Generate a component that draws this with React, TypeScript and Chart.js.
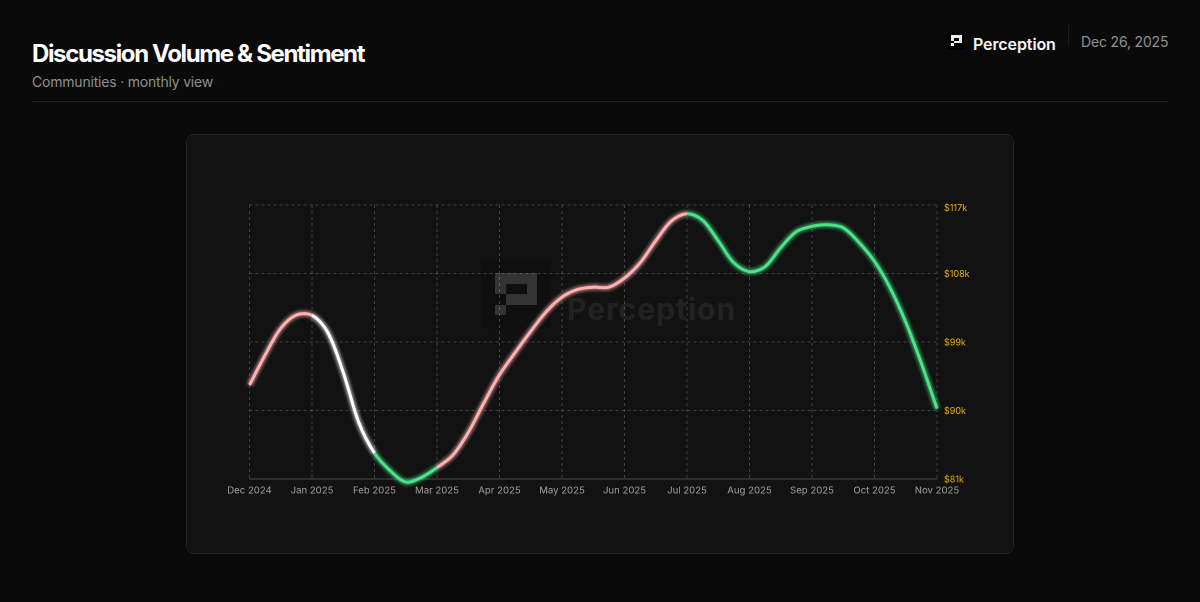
import React, { useEffect, useRef } from "react";
import { Chart, registerables } from "chart.js";

Chart.register(...registerables);

const months = ["Dec 2024","Jan 2025","Feb 2025","Mar 2025","Apr 2025","May 2025","Jun 2025","Jul 2025","Aug 2025","Sep 2025","Oct 2025","Nov 2025"];
const yTicks = [81, 90, 99, 108, 117];
const monthPos = [0,0.25,0.5,0.75,1,1.25,1.5,1.75,2,2.25,2.5,2.75,3,3.25,3.5,3.75,4,4.25,4.5,4.75,5,5.25,5.5,5.75,6,6.25,6.5,6.75,7,7.25,7.5,7.75,8,8.25,8.5,8.75,9,9.25,9.5,9.75,10,10.25,10.5,10.75,11];
const priceK = [93.35,97.3,100.8,102.55,102.5,100.3,95,88.4,84.4,82.1,80.6,81.2,82.5,84.1,87.1,91,94.7,97.6,100.4,103,104.9,105.9,106.2,106.2,107.4,109.4,112.3,114.9,115.85,115,112.3,109.4,108.25,108.9,111.4,113.5,114.2,114.4,114,112.1,109.6,106.1,101.6,96.2,90.25];

const PINK = "#ffb0b0";
const WHITE = "#ffffff";
const GREEN = "#4ae388";
const sentimentByMonth = [PINK, WHITE, GREEN, PINK, PINK, PINK, PINK, GREEN, GREEN, GREEN, GREEN];

const points = monthPos.map((x, i) => ({ x, y: priceK[i] }));
const segColor = (ctx: any) => sentimentByMonth[Math.min(10, Math.floor(ctx.p0.parsed.x + 1e-6))];

function App() {
  const ref = useRef<HTMLCanvasElement | null>(null);
  useEffect(() => {
    if (!ref.current) return;
    const chart = new Chart(ref.current, {
      type: "line",
      data: {
        datasets: [
          {
            data: points,
            borderWidth: 6,
            borderColor: GREEN,
            segment: { borderColor: segColor },
            pointRadius: 0,
            tension: 0.33,
            capBezierPoints: false,
            clip: false,
            order: 2,
          } as any,
          {
            data: points,
            borderWidth: 3,
            borderColor: GREEN,
            segment: { borderColor: segColor },
            pointRadius: 0,
            tension: 0.33,
            capBezierPoints: false,
            clip: false,
            order: 1,
          } as any,
        ],
      },
      options: {
        animation: false,
        responsive: false,
        devicePixelRatio: 2,
        layout: { padding: { left: 249.5, top: 205, right: 0, bottom: 0 } },
        plugins: { legend: { display: false }, tooltip: { enabled: false } },
        scales: {
          x: {
            type: "linear",
            min: 0,
            max: 11,
            afterBuildTicks: (s: any) => { s.ticks = months.map((_, i) => ({ value: i })); },
            afterFit: (s: any) => { s.height = 123; },
            grid: { color: "rgba(255,255,255,0.2)", lineWidth: 1, drawTicks: false },
            border: { display: true, color: "#4a4a4a", dash: [3, 3] },
            ticks: {
              autoSkip: false,
              maxRotation: 0,
              padding: 6,
              color: "#a0a0a0",
              font: { family: "Inter", size: 9.6 },
              callback: (v: any) => months[v as number],
            },
          },
          y: {
            position: "right",
            min: 81,
            max: 117,
            afterBuildTicks: (s: any) => { s.ticks = yTicks.map((value) => ({ value })); },
            afterFit: (s: any) => { s.width = 263; },
            grid: { color: "rgba(255,255,255,0.2)", lineWidth: 1, drawTicks: false },
            border: { display: false, dash: [3, 3] },
            ticks: {
              padding: 7,
              color: "#eab308",
              font: { family: "Inter", size: 9 },
              callback: (v: any) => `$${v}k`,
            },
          },
        },
      },
      plugins: [
        {
          id: "glow",
          beforeDatasetDraw(c: any, args: any) {
            if (args.index === 0) {
              c.ctx.save();
              c.ctx.filter = "blur(3px)";
              c.ctx.globalAlpha = 0.6;
            }
          },
          afterDatasetDraw(c: any, args: any) {
            if (args.index === 0) c.ctx.restore();
          },
        },
        {
          id: "labelNudge",
          beforeDraw(c: any) {
            for (const it of c.scales.y.getLabelItems()) {
              if (!it.__moved) {
                it.options.translation[1] += it.label === "$117k" ? 3.5 : 1;
                it.__moved = true;
              }
            }
          },
        },
      ],
    } as any);
    return () => chart.destroy();
  }, []);

  const block = (l: number, t: number, w: number, h: number, c: string) => (
    <div style={{ position: "absolute", left: l, top: t, width: w, height: h, background: c }} />
  );
  const logo = (l: number, t: number, u: number, c: string) => (
    <>
      {block(l, t, u * 4, u, c)}
      {block(l, t + u, u, u, c)}
      {block(l + u * 3, t + u, u, u, c)}
      {block(l + u, t + u * 2, u * 3, u, c)}
      {block(l, t + u * 3, u, u, c)}
    </>
  );

  return (
    <div style={{ position: "absolute", left: 0, top: 0, width: 1200, height: 602, background: "#0a0a0a", overflow: "hidden", fontFamily: "Inter, sans-serif" }}>
      <div style={{ position: "absolute", left: 32, top: 39, fontSize: 24, lineHeight: "29px", fontWeight: 700, letterSpacing: -1.36, color: "#fff", whiteSpace: "nowrap" }}>Discussion Volume &amp; Sentiment</div>
      <div style={{ position: "absolute", left: 32, top: 73, fontSize: 14, lineHeight: "18px", letterSpacing: -0.2, color: "#8f8f8f", whiteSpace: "nowrap" }}>Communities · monthly view</div>
      <div style={{ position: "absolute", left: 32, top: 101, width: 1136, height: 1, background: "#222" }} />

      {block(947, 32, 18, 18, "#000")}
      {logo(951, 35, 2.75, "#eee")}
      <div style={{ position: "absolute", left: 973, top: 34, fontSize: 16, lineHeight: "20px", fontWeight: 600, letterSpacing: -0.1, color: "#f5f5f5", whiteSpace: "nowrap" }}>Perception</div>
      <div style={{ position: "absolute", left: 1068, top: 25, width: 1, height: 21, background: "#1c1c1c" }} />
      <div style={{ position: "absolute", left: 1081, top: 33, fontSize: 14, lineHeight: "18px", letterSpacing: -0.17, color: "#8f8f8f", whiteSpace: "nowrap" }}>Dec 26, 2025</div>

      <div style={{ position: "absolute", left: 186, top: 134, width: 828, height: 420, boxSizing: "border-box", background: "#121212", border: "1px solid #242424", borderRadius: 8 }} />

      {block(481, 259, 70, 70, "#0f0f0f")}
      {logo(495, 273, 10.5, "#333333")}
      <div style={{ position: "absolute", left: 567, top: 290, fontSize: 30, lineHeight: "38px", fontWeight: 700, color: "#222222", letterSpacing: 1, whiteSpace: "nowrap" }}>Perception</div>

      <canvas ref={ref} width={1200} height={602} style={{ position: "absolute", left: 0, top: 0, width: 1200, height: 602 }} />
    </div>
  );
}

export default App;
